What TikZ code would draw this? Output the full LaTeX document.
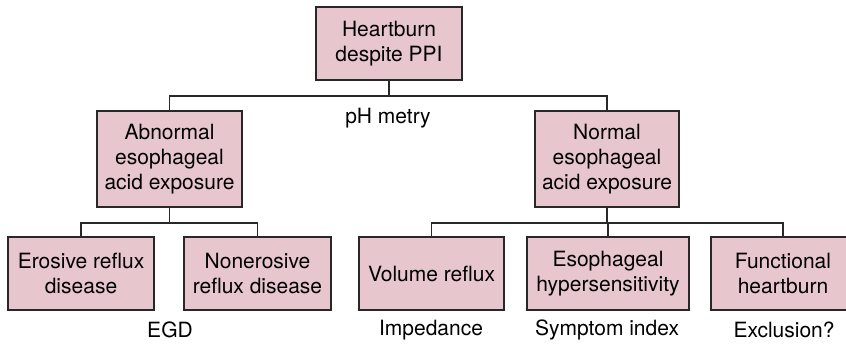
\documentclass[tikz,border=0pt]{standalone}
\usepackage{fontspec}
\setmainfont{TeX Gyre Heros}
\definecolor{boxfill}{RGB}{231,198,205}
\definecolor{linec}{RGB}{40,40,40}
\begin{document}
\begin{tikzpicture}[x=1pt,y=-1pt,
  box/.style={draw=linec, fill=boxfill, line width=1.1pt, inner sep=0pt, align=center,
    font=\fontsize{21}{25}\selectfont, anchor=center},
  lbl/.style={inner sep=0pt, font=\fontsize{21}{25}\selectfont, anchor=center},
  conn/.style={draw=linec, line width=1.1pt}]
\useasboundingbox (0,0) rectangle (846,343);
\clip (0,0) rectangle (846,343);
\node[box, minimum width=146pt, minimum height=73pt] (top) at (389,43.5) {Heartburn\\despite PPI};
\node[box, minimum width=145pt, minimum height=96pt] (abn) at (169.5,159) {Abnormal\\esophageal\\acid exposure};
\node[box, minimum width=144pt, minimum height=96pt] (nor) at (607,159) {Normal\\esophageal\\acid exposure};
\node[box, minimum width=146pt, minimum height=73pt] (ero) at (81,273.5) {Erosive reflux\\disease};
\node[box, minimum width=147pt, minimum height=73pt] (non) at (257.5,273.5) {Nonerosive\\reflux disease};
\node[box, minimum width=145pt, minimum height=73pt] (vol) at (431.5,273.5) {Volume reflux};
\node[box, minimum width=162pt, minimum height=73pt] (hyp) at (608,273.5) {Esophageal\\hypersensitivity};
\node[box, minimum width=144pt, minimum height=73pt] (fun) at (783,273.5) {Functional\\heartburn};
\node[lbl] (ph) at (388,118) {pH metry};
\node[lbl] (egd) at (170,330) {EGD};
\node[lbl] (imp) at (431,330) {Impedance};
\node[lbl] (sym) at (607,330) {Symptom index};
\node[lbl] (exc) at (784,330) {Exclusion?};
\coordinate (j1) at (389,96);
\coordinate (j2) at (169.5,223);
\coordinate (j3) at (607,223);
\draw[conn] (top.south) -- (j1);
\draw[conn] (abn.north) |- (j1) -| (nor.north);
\draw[conn] (abn.south) -- (j2);
\draw[conn] (ero.north) |- (j2) -| (non.north);
\draw[conn] (nor.south) -- (j3);
\draw[conn] (vol.north) |- (j3) -| (fun.north);
\draw[conn] (j3) -- (j3 -| hyp.north) -- (hyp.north);
\end{tikzpicture}
\end{document}
